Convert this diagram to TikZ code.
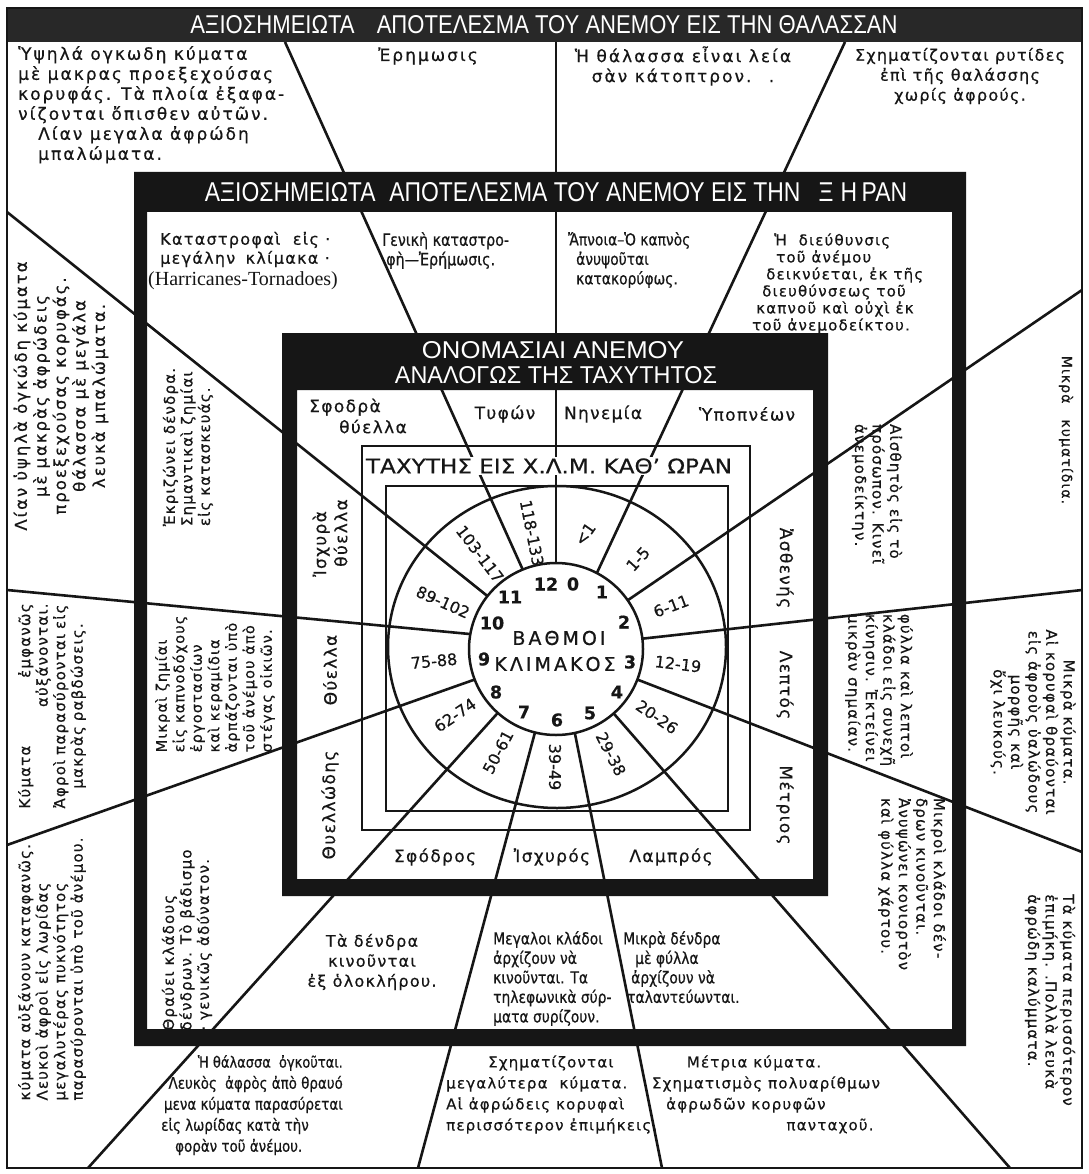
\documentclass[tikz,border=0pt]{standalone}
\usepackage{fontspec}
\usepackage{graphicx}
\setmainfont{DejaVu Sans}[FakeBold=0.5]
\newfontfamily\cellf{DejaVu Sans}[LetterSpace=8, FakeBold=0.5]
\newfontfamily\cellwf{DejaVu Sans}[LetterSpace=12, FakeBold=0.5]
\newfontfamily\narf{DejaVu Sans}[FakeStretch=0.84, FakeBold=0.5]
\newfontfamily\widef{DejaVu Sans}[LetterSpace=16, FakeBold=0.8]
\newfontfamily\condf{Liberation Sans}
\newfontfamily\serf{Liberation Serif}
\usetikzlibrary{calc}
\definecolor{ink}{HTML}{161616}
\definecolor{bandc}{HTML}{282828}
\begin{document}
\begin{tikzpicture}[x=1pt,y=-1pt,
  spoke/.style={line width=2.6pt, draw=ink},
  ringline/.style={line width=2.5pt, draw=ink},
  thinrect/.style={line width=2pt, draw=ink},
  cell/.style={font={\cellf\fontsize{16}{20}\selectfont}, inner sep=0pt, text=ink},
  scell/.style={font={\cellf\fontsize{15}{21}\selectfont}, inner sep=0pt, text=ink},
  cellw/.style={font={\cellwf\fontsize{17}{20}\selectfont}, inner sep=0pt, text=ink},
  ncell/.style={font={\narf\fontsize{16}{19.5}\selectfont}, inner sep=0pt, text=ink},
  nlcell/.style={font={\narf\fontsize{16.5}{19.5}\selectfont}, inner sep=0pt, text=ink},
  vcell/.style={font={\cellf\fontsize{15}{17.5}\selectfont}, inner sep=0pt, text=ink},
  wname/.style={font={\cellf\fontsize{17}{21}\selectfont}, inner sep=0pt, text=ink},
  rlab/.style={font={\fontsize{16}{16}\selectfont}, inner sep=0pt, text=ink},
  bnum/.style={font={\bfseries\fontsize{17.5}{17.5}\selectfont}, inner sep=0pt, text=ink},
  ttl/.style={font=\condf, text=white, inner sep=0pt},
]
\useasboundingbox (0,0) rectangle (1088,1174);
\fill[white] (0,0) rectangle (1088,1174);
% spokes: from the inner circle to the outer border
\foreach \ia/\ox/\oy [count=\i] in {90/556/42, 62/845/42, 34.5/1082/290, 6.9/1082/590, -20.8/1082/852, -48.5/1010/1168, -77.5/662/1168, -104/418/1168, -132/88/1168, -159.2/7/845, 170/7/590, 142/7/212, 112.5/285/42}
  \draw[spoke] ({556+87*cos(\ia)},{649-86*sin(\ia)}) coordinate (sin\i) -- (\ox,\oy) coordinate (sout\i);
% circles and rectangles
\draw[ringline] (557,647) ellipse [x radius=169, y radius=161];
\filldraw[ringline, fill=white] (556,649) ellipse [x radius=87, y radius=86];
\draw[thinrect] (362,446) rectangle (750,830);
\draw[thinrect] (386,486) rectangle (728,811);
% frames
\fill[ink, even odd rule] (282,333) rectangle (828,896) (297,390) rectangle (813,879);
\fill[ink, even odd rule] (134,172) rectangle (966,1046) (147,212) rectangle (952,1029);
\fill[bandc] (6,8) rectangle (1082,42);
\draw[line width=1.6pt, ink] (7,8) rectangle (1082,1168);
% titles
\node[ttl] (tsea) at (544,25) {\resizebox{707pt}{18pt}{ΑΞΙΟΣΗΜΕΙΩΤΑ\hspace{10pt}ΑΠΟΤΕΛΕΣΜΑ ΤΟΥ ΑΝΕΜΟΥ ΕΙΣ ΤΗΝ ΘΑΛΑΣΣΑΝ}};
\node[ttl] (tland) at (556,192) {\resizebox{702pt}{19pt}{ΑΞΙΟΣΗΜΕΙΩΤΑ\hspace{6pt}ΑΠΟΤΕΛΕΣΜΑ ΤΟΥ ΑΝΕΜΟΥ ΕΙΣ ΤΗΝ\hspace{8pt}Ξ\hspace{3pt}Η\hspace{2pt}ΡΑΝ}};
\node[ttl] (tname1) at (553,350) {\resizebox{262pt}{17pt}{ΟΝΟΜΑΣΙΑΙ ΑΝΕΜΟΥ}};
\node[ttl] (tname2) at (556,375) {\resizebox{322pt}{17pt}{ΑΝΑΛΟΓΩΣ ΤΗΣ ΤΑΧΥΤΗΤΟΣ}};
\node[fill=white, inner sep=1.5pt, text=ink] (tspeed) at (549,466) {\resizebox{366pt}{15pt}{ΤΑΧΥΤΗΣ ΕΙΣ Χ.Λ.Μ. ΚΑΘ’ ΩΡΑΝ}};
% centre
\node[font={\widef\fontsize{19}{19}\selectfont}, inner sep=0pt, text=ink] (c1) at (559,638) {ΒΑΘΜΟΙ};
\node[font={\widef\fontsize{19}{19}\selectfont}, inner sep=0pt, text=ink] (c2) at (555,664) {ΚΛΙΜΑΚΟΣ};
% numbers
\node[bnum] (n0) at (573,584) {0};
\node[bnum] (n1) at (602,592) {1};
\node[bnum] (n2) at (624,622) {2};
\node[bnum] (n3) at (630,662) {3};
\node[bnum] (n4) at (617,692) {4};
\node[bnum] (n5) at (590,713) {5};
\node[bnum] (n6) at (557,720) {6};
\node[bnum] (n7) at (524,712) {7};
\node[bnum] (n8) at (496,692) {8};
\node[bnum] (n9) at (484,659) {9};
\node[bnum] (n10) at (492,623) {10};
\node[bnum] (n11) at (510,597) {11};
\node[bnum] (n12) at (546,584) {12};
% ring labels
\node[rlab, rotate=55] (r0) at (585,534) {<1};
\node[rlab, rotate=48.25] (r1) at (638,559) {1-5};
\node[rlab, rotate=20.7] (r2) at (671,606) {6-11};
\node[rlab, rotate=-6.95] (r3) at (678,664) {12-19};
\node[rlab, rotate=-34.65] (r4) at (657,717) {20-26};
\node[rlab, rotate=-63] (r5) at (611,754) {29-38};
\node[rlab, rotate=-90] (r6) at (555,767) {39-49};
\node[rlab, rotate=62] (r7) at (498,752) {50-61};
\node[rlab, rotate=34.4] (r8) at (455,715) {62-74};
\node[rlab, rotate=5.4] (r9) at (434,661) {75-88};
\node[rlab, rotate=-24] (r10) at (443,602) {89-102};
\node[rlab, rotate=-52.75] (r11) at (480,554) {103-117};
\node[rlab, rotate=-78.75] (r12) at (532,533) {118-133};
% wind names
\node[wname, align=left] (w11) at (358,416) {Σφοδρὰ\\\hspace*{30pt}θύελλα};
\node[wname] (w12) at (505,414) {Τυφών};
\node[wname] (w0) at (603,414) {Νηνεμία};
\node[wname] (w1) at (747,414) {Ὑποπνέων};
\node[wname, rotate=90, align=left] (w10) at (330,538) {Ἰσχυρὰ\\\hspace*{10pt}θύελλα};
\node[wname, rotate=90] (w9) at (330,670) {Θύελλα};
\node[wname, rotate=90] (w8) at (330,805) {Θυελλώδης};
\node[wname, rotate=-90] (w2) at (785,568) {Ἀσθενής};
\node[wname, rotate=-90] (w3) at (785,685) {Λεπτός};
\node[wname, rotate=-90] (w4) at (785,805) {Μέτριος};
\node[wname] (w7) at (435,857) {Σφόδρος};
\node[wname] (w6) at (552,857) {Ἰσχυρός};
\node[wname] (w5) at (671,857) {Λαμπρός};
% sea: top row
\node[cellw, anchor=north west, align=left] (sA) at (18,46) {Ὑψηλά ογκωδη κύματα\\μὲ μακρας προεξεχούσας\\κορυφάς. Τὰ πλοία ἐξαφα-\\νίζονται ὄπισθεν αὐτῶν.\\\hspace*{20pt}Λίαν μεγαλα ἀφρώδη\\\hspace*{20pt}μπαλώματα.};
\node[cellw] (sB) at (428,56) {Ἐρημωσις};
\node[cellw, align=center] (sC) at (683,66) {Ἡ θάλασσα εἶναι λεία\\σὰν κάτοπτρον. \ .};
\node[cell, align=center] (sD) at (960,76) {Σχηματίζονται ρυτίδες\\ἐπὶ τῆς θαλάσσης\\χωρίς ἀφρούς.};
% land: top row
\node[cell, anchor=west] (lE1) at (160,240) {Καταστροφαὶ\hspace{6pt} εἰς ·};
\node[cell, anchor=west] (lE2) at (160,259) {μεγάλην\hspace{4pt} κλίμακα ·};
\node[font={\serf\fontsize{20}{20}\selectfont}, inner sep=0pt, anchor=west, text=ink] (lE3) at (148,281) {(Harricanes-Tornadoes)};
\node[font={\narf\fontsize{17}{19.5}\selectfont}, inner sep=0pt, text=ink, anchor=north west, align=left] (lF) at (382,232) {Γενικὴ καταστρο-\\\hspace*{4pt}φὴ—Ἐρήμωσις.};
\node[nlcell, anchor=north west, align=left] (lG) at (568,232) {Ἄπνοια–Ὁ καπνὸς\\\hspace*{8pt}ἀνυψοῦται\\\hspace*{8pt}κατακορύφως.};
\node[vcell, anchor=west] (lH1) at (774,241) {Ἡ\hspace{6pt} διεύθυνσις};
\node[vcell, anchor=west] (lH2) at (776,258) {τοῦ ἀνέμου};
\node[vcell, anchor=west] (lH3) at (766,275) {δεικνύεται, ἐκ τῆς};
\node[vcell, anchor=west] (lH4) at (762,292) {διευθύνσεως τοῦ};
\node[vcell, anchor=west] (lH5) at (756,309) {καπνοῦ καὶ οὐχὶ ἐκ};
\node[vcell, anchor=west] (lH6) at (752,326) {τοῦ ἀνεμοδείκτου.};
% land: left column
\node[vcell, rotate=90, align=left] (lK10) at (188,447) {Ἐκριζώνει δένδρα.\\Σημαντικαὶ ζημίαι\\εἰς κατασκευάς.};
\node[font={\cellf\fontsize{14.5}{17.5}\selectfont}, inner sep=0pt, text=ink, rotate=90, align=left] (lK9) at (215,684) {Μικραὶ ζημίαι\\εἰς καπνοδόχους\\ἐργοστασίων\\καὶ κεραμίδια\\ἁρπάζονται ὑπὸ\\τοῦ ἀνέμου ἀπὸ\\στέγας οἰκιῶν.};
\node[vcell, rotate=90, align=left] (lK8) at (187,940) {Θραύει κλάδους\\δένδρων. Τὸ βάδισμο\\· γενικῶς ἀδύνατον.};
% land: right column
\node[vcell, rotate=-90, align=left] (lK2) at (877,494) {Αἰσθητὸς εἰς τὸ\\πρόσωπον. Κινεῖ\\ἀνεμοδείκτην.};
\node[vcell, rotate=-90, align=left] (lK3) at (879,690) {φύλλα καὶ λεπτοὶ\\κλάδοι εἰς συνεχῆ\\κίνησιν. Ἐκτείνει\\μικρὰν σημαίαν.};
\node[vcell, rotate=-90, align=left] (lK4) at (912,884) {Μικροὶ κλάδοι δέν-\\δρων κινοῦνται.\\Ἀνυψώνει κονιορτὸν\\καὶ φύλλα χάρτου.};
% land: bottom row
\node[cell, align=center] (lL7) at (372,962) {Τὰ δένδρα\\κινοῦνται\\ἐξ ὁλοκλήρου.};
\node[nlcell, anchor=north west, align=left] (lL6) at (493,931) {Μεγαλοι κλάδοι\\ἀρχίζουν νὰ\\κινοῦνται. Τα\\τηλεφωνικὰ σύρ-\\ματα συρίζουν.};
\node[nlcell, anchor=north west, align=left] (lL5) at (623,931) {Μικρὰ δένδρα\\\hspace*{12pt}μὲ φύλλα\\\hspace*{8pt}ἀρχίζουν νὰ\\\hspace*{4pt}ταλαντεύωνται.};
% sea: right column
\node[font={\cellf\fontsize{14}{14}\selectfont}, inner sep=0pt, text=ink, rotate=-90] (sR2) at (1066,430) {Μικρὰ\hspace{16pt}κυματίδια.};
\node[vcell, rotate=-90, align=center] (sR3) at (1033,722) {Μικρὰ κύματα.\\Αἱ κορυφαὶ θραύονται\\εἰς ἀφροὺς ὑαλώδους\\μορφῆς καὶ\\ὄχι λευκούς.};
\node[vcell, rotate=-90, align=left] (sR4) at (1050,1000) {Τὰ κύματα περισσότερον\\ἐπιμήκη. .Πολλὰ λευκὰ\\ἀφρώδη καλύμματα.};
% sea: left column
\node[font={\cellwf\fontsize{16.5}{19.5}\selectfont}, inner sep=0pt, text=ink, rotate=90, align=center] (sL10) at (61,396) {Λίαν ὑψηλὰ ὀγκώδη κύματα\\μὲ μακρὰς ἀφρώδεις\\προεξεχούσας κορυφάς.\\θάλασσα μὲ μεγάλα\\λευκὰ μπαλώματα.};
\node[vcell, rotate=90, align=left, text width=205pt] (sL9) at (52,706) {Κύματα\hfill ἐμφανῶς\\\hspace*{\fill}αὐξάνονται.\\Ἀφροὶ παρασύρονται εἰς\\\hspace*{\fill}μακρὰς ραβδώσεις.\hspace*{\fill}};
\node[vcell, rotate=90, align=left] (sL8) at (52,969) {κύματα αὐξάνουν καταφανῶς.\\Λευκοὶ ἀφροὶ εἰς λωρίδας\\μεγαλυτέρας πυκνότητος\\παρασύρονται ὑπὸ τοῦ ἀνέμου.};
% sea: bottom row
\node[font={\narf\fontsize{15.5}{19.5}\selectfont}, inner sep=0pt, text=ink, anchor=east] (sB7a) at (343,1063) {Ἡ θάλασσα\hspace{4pt} ὀγκοῦται.};
\node[ncell, anchor=east] (sB7b) at (343,1084) {Λευκὸς\hspace{4pt} ἀφρὸς ἀπὸ θραυό};
\node[ncell, anchor=east] (sB7c) at (343,1105) {μενα κύματα παρασύρεται};
\node[ncell, anchor=west] (sB7d) at (161,1126) {εἰς λωρίδας κατὰ τὴν};
\node[ncell, anchor=west] (sB7e) at (175,1147) {φορὰν τοῦ ἀνέμου.};
\node[scell, anchor=west] (sB6a) at (488,1063) {Σχηματίζονται};
\node[scell, anchor=west, align=left] (sB6) at (446,1105) {μεγαλύτερα\hspace{6pt} κύματα.\\Αἱ ἀφρώδεις κορυφαὶ\\περισσότερον ἐπιμήκεις.};
\node[scell] (sB5a) at (754,1063) {Μέτρια κύματα.};
\node[scell] (sB5b) at (766,1084) {Σχηματισμὸς πολυαρίθμων};
\node[scell, anchor=west] (sB5c) at (666,1105) {ἀφρωδῶν κορυφῶν};
\node[scell] (sB5d) at (830,1126) {πανταχοῦ.};
\end{tikzpicture}
\end{document}
